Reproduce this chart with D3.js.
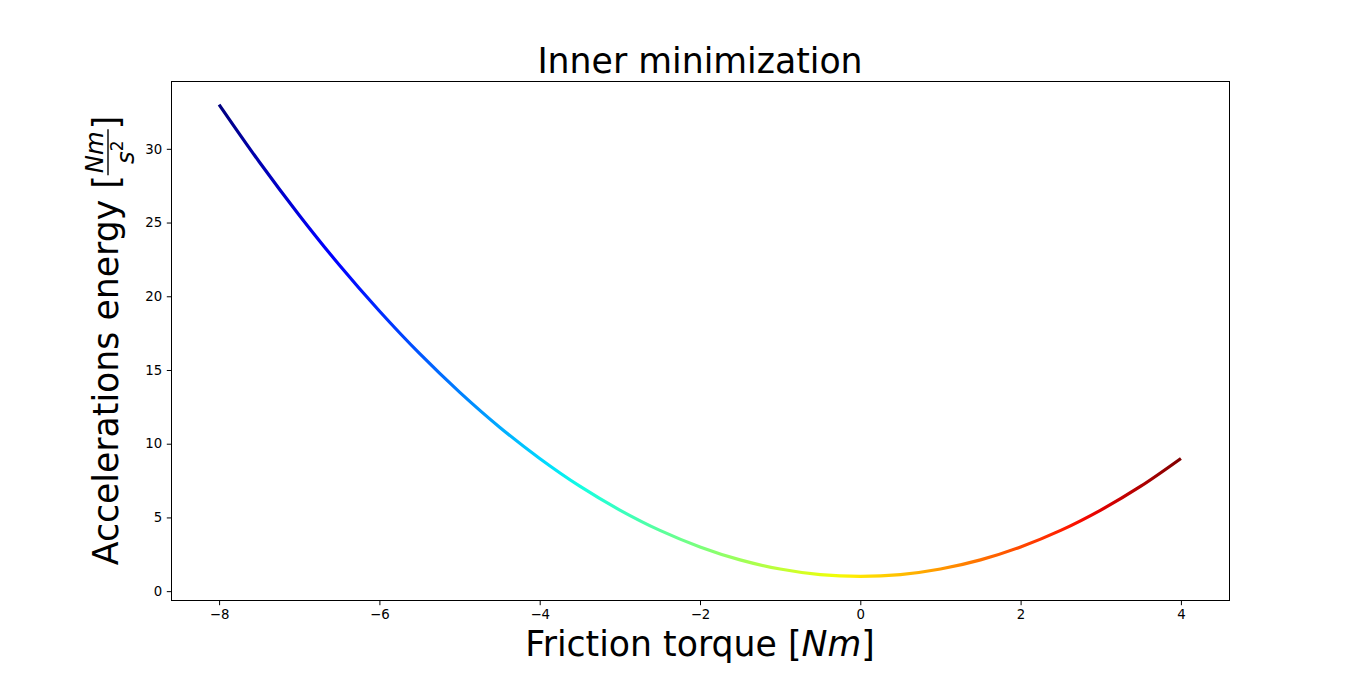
<!DOCTYPE html>
<html>
<head>
<meta charset="utf-8">
<script src="https://cdn.jsdelivr.net/npm/d3@7"></script>
<style>
  body { margin: 0; background: #fff; }
  text { font-family: "DejaVu Sans", sans-serif; fill: #000; }
</style>
</head>
<body>
<svg id="chart" width="1366" height="674"></svg>
<script>
// values
var torque = [-8, -7.5, -7, -6.5, -6, -5.5, -5, -4.5, -4, -3.5, -3, -2.5, -2,
              -1.5, -1, -0.5, 0, 0.5, 1, 1.5, 2, 2.5, 3, 3.5, 4];
var energy = [33, 29.12, 25.5, 22.12, 19, 16.12, 13.5, 11.12, 9, 7.12, 5.5, 4.12, 3,
              2.12, 1.5, 1.12, 1, 1.12, 1.5, 2.12, 3, 4.12, 5.5, 7.12, 9];
var xTicks = [-8, -6, -4, -2, 0, 2, 4];
var yTicks = [0, 5, 10, 15, 20, 25, 30];

var padL = 171, padR = 1229, padT = 81, padB = 600;

var svg = d3.select('#chart');

var x = d3.scaleLinear().domain([-8.6, 4.6]).range([padL, padR]);
var y = d3.scaleLinear().domain([-0.6, 34.6]).range([padB, padT]);

// matplotlib "jet" colormap
function seg(pts, t) {
  for (var i = 1; i < pts.length; i++) {
    if (t <= pts[i][0]) {
      var a = pts[i - 1], b = pts[i];
      return a[1] + (b[1] - a[1]) * (t - a[0]) / (b[0] - a[0]);
    }
  }
  return pts[pts.length - 1][1];
}
function jet(t) {
  var r = seg([[0, 0], [0.35, 0], [0.66, 1], [0.89, 1], [1, 0.5]], t);
  var g = seg([[0, 0], [0.125, 0], [0.375, 1], [0.64, 1], [0.91, 0], [1, 0]], t);
  var b = seg([[0, 0.5], [0.11, 1], [0.34, 1], [0.65, 0], [1, 0]], t);
  return d3.rgb(r * 255, g * 255, b * 255).formatHex();
}

var grad = svg.append('defs').append('linearGradient')
  .attr('id', 'jet')
  .attr('gradientUnits', 'userSpaceOnUse')
  .attr('x1', x(d3.min(torque))).attr('x2', x(d3.max(torque)))
  .attr('y1', 0).attr('y2', 0);
d3.range(0, 1.0001, 0.02).forEach(function(t) {
  grad.append('stop').attr('offset', t).attr('stop-color', jet(t));
});

var line = d3.line()
  .x(function(d, i) { return x(torque[i]); })
  .y(function(d) { return y(d); })
  .curve(d3.curveCatmullRom);

svg.append('path')
  .datum(energy)
  .attr('d', line)
  .attr('fill', 'none')
  .attr('stroke', 'url(#jet)')
  .attr('stroke-width', 3.2);

// axes frame
svg.append('rect')
  .attr('x', padL + 0.5).attr('y', padT + 0.5)
  .attr('width', padR - padL).attr('height', padB - padT)
  .attr('fill', 'none').attr('stroke', '#000').attr('stroke-width', 1);

var fmt = function(d) { return d < 0 ? '\u2212' + Math.abs(d) : d; };

var xAxis = svg.append('g').attr('transform', 'translate(0,' + (padB + 0.5) + ')')
  .call(d3.axisBottom(x).tickValues(xTicks).tickFormat(fmt).tickSize(4.7).tickPadding(4.7));
var yAxis = svg.append('g').attr('transform', 'translate(' + (padL + 0.5) + ',0)')
  .call(d3.axisLeft(y).tickValues(yTicks).tickSize(4.7).tickPadding(4.7));
[xAxis, yAxis].forEach(function(a) {
  a.select('.domain').remove();
  a.selectAll('line').attr('stroke', '#000').attr('stroke-width', 1);
  a.selectAll('text').style('font-family', '"DejaVu Sans", sans-serif')
    .style('font-size', '13.3px').attr('fill', '#000');
});

// title
svg.append('text').attr('x', 700).attr('y', 73)
  .attr('text-anchor', 'middle').style('font-size', '34.7px')
  .text('Inner minimization');

// x label
var xl = svg.append('text').attr('x', 700).attr('y', 656)
  .attr('text-anchor', 'middle').style('font-size', '34.7px');
xl.append('tspan').text('Friction torque [');
xl.append('tspan').style('font-style', 'italic').text('Nm');
xl.append('tspan').text(']');

// y label, rotated, with fraction
var yl = svg.append('g').attr('transform', 'translate(118,340.5) rotate(-90)');
var t1 = yl.append('text').style('font-size', '34.7px').text('Accelerations energy [');
var w1 = t1.node().getComputedTextLength();
var num = yl.append('text').style('font-size', '24.3px').style('font-style', 'italic').text('Nm');
var wn = num.node().getComputedTextLength();
var den = yl.append('text').style('font-size', '24.3px');
den.append('tspan').style('font-style', 'italic').text('s');
den.append('tspan').attr('dy', -11).style('font-size', '17px').text('2');
var wd = den.node().getComputedTextLength();
var wf = Math.max(wn, wd) + 4;
var t2 = yl.append('text').style('font-size', '34.7px').text(']');
var w2 = t2.node().getComputedTextLength();
var total = w1 + wf + w2;
var x0 = -total / 2;
t1.attr('x', x0).attr('y', 0);
num.attr('x', x0 + w1 + (wf - wn) / 2).attr('y', -15);
den.attr('x', x0 + w1 + (wf - wd) / 2).attr('y', 16);
yl.append('line')
  .attr('x1', x0 + w1).attr('x2', x0 + w1 + wf)
  .attr('y1', -10).attr('y2', -10)
  .attr('stroke', '#000').attr('stroke-width', 1.4);
t2.attr('x', x0 + w1 + wf).attr('y', 0);
</script>
</body>
</html>
